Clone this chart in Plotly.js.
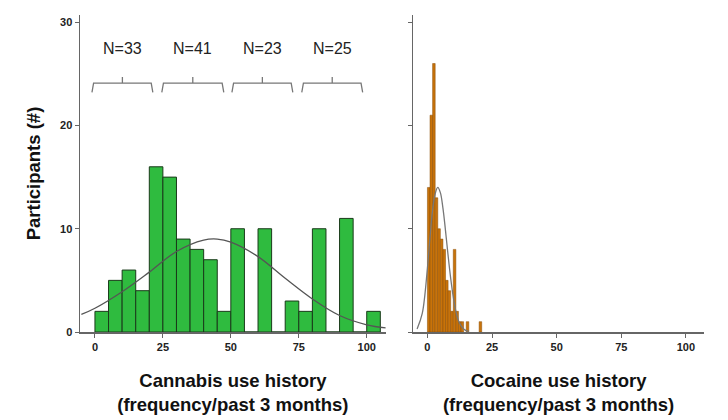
<!DOCTYPE html>
<html><head><meta charset="utf-8">
<script src="https://cdn.plot.ly/plotly-3.0.1.min.js"></script>
<style>body{margin:0}</style></head><body>
<div id="c" style="width:728px;height:420px"></div>
<script>
const canBins = [0,5,10,15,20,25,30,35,40,45,50,55,60,65,70,75,80,85,90,95,100];
const canCounts = [2,5,6,4,16,15,9,8,7,2,10,0,10,0,3,2,10,0,11,0,2];
const canCurveX = [-5,0,10,20,30,40,45,50,60,70,80,90,100,107];
const canCurveY = [1.7,2.3,3.9,5.8,7.8,8.9,9.0,8.7,7.3,5.2,3.2,1.6,0.7,0.4];
const cocBins = [0,1,2,3,4,5,6,7,8,9,10,11,12,13,15,20];
const cocCounts = [14,21,26,13,10,9,8,5,4,2,8,2,1,1,1,1];
const cocCurveX = [-4,-2,0,1,2,3,4,5,6,7,8,9,10,11,12,14,16];
const cocCurveY = [0.3,1.8,6.2,9.2,11.8,13.4,14,13.5,12,9.8,7.4,5.2,3.4,2,1.1,0.3,0.05];
const braces = [[-1.1,21.3,'N=33'],[24.6,47.4,'N=41'],[50.4,72.8,'N=23'],[76.1,98.5,'N=25']];
const yTicks = [0,10,20,30];

const traces = [
 {type:'bar',x:canBins.map(b=>b+2.5),y:canCounts,width:5,xaxis:'x',yaxis:'y',
  marker:{color:'#2fbb3f',line:{color:'#1a3a1a',width:1}}},
 {type:'scatter',mode:'lines',x:canCurveX,y:canCurveY,line:{color:'#555',width:1.3,shape:'spline'},xaxis:'x',yaxis:'y'},
 {type:'bar',x:cocBins.map(b=>b+0.5),y:cocCounts,width:1,xaxis:'x2',yaxis:'y2',
  marker:{color:'#c8730a',line:{color:'#8a4d05',width:0.5}}},
 {type:'scatter',mode:'lines',x:cocCurveX,y:cocCurveY,line:{color:'#777',width:1.3,shape:'spline'},xaxis:'x2',yaxis:'y2'}
];
const shapes=[], ann=[];
braces.forEach(([a,b,t])=>{
 const m=(a+b)/2;
 shapes.push({type:'path',xref:'x',yref:'y',path:`M${a},23.2 L${a+0.6},24.1 L${b-0.6},24.1 L${b},23.2 M${m},24.1 L${m},24.7`,line:{color:'#777',width:1.3}});
 ann.push({xref:'x',yref:'y',x:m,y:27.5,text:t,showarrow:false,font:{size:16,color:'#222',family:'Liberation Sans, Arial'}});
});
const ax = {showgrid:false,zeroline:false,showline:true,linecolor:'#666',linewidth:1.5,ticks:'outside',ticklen:4,tickcolor:'#666',
  tickfont:{size:11,color:'#222',family:'Liberation Sans, Arial',weight:'bold'},tickvals:[0,25,50,75,100],range:[-5.5,107],fixedrange:true};
const tfont={size:18.5,color:'#111',family:'Liberation Sans, Arial',weight:'bold'};
const layout={width:728,height:420,showlegend:false,bargap:0,plot_bgcolor:'#fff',paper_bgcolor:'#fff',
 margin:{l:80,r:24,t:15,b:88},
 xaxis:Object.assign({},ax,{domain:[0,0.49],anchor:'y',title:{text:'Cannabis use history<br>(frequency/past 3 months)',font:tfont,standoff:22}}),
 xaxis2:Object.assign({},ax,{domain:[0.534,1],anchor:'y2',title:{text:'Cocaine use history<br>(frequency/past 3 months)',font:tfont,standoff:22}}),
 yaxis:{range:[0,30.7],domain:[0,1],showgrid:false,zeroline:false,showline:true,linecolor:'#666',linewidth:1.5,ticks:'outside',ticklen:4,tickcolor:'#666',
  tickvals:yTicks,tickfont:{size:11,color:'#222',family:'Liberation Sans, Arial',weight:'bold'},
  title:{text:'Participants (#)',font:tfont,standoff:14}},
 yaxis2:{range:[0,30.7],anchor:'x2',showgrid:false,zeroline:false,showline:true,linecolor:'#666',linewidth:1.5,ticks:'outside',ticklen:4,tickcolor:'#666',
  tickvals:yTicks,showticklabels:false},
 shapes:shapes,annotations:ann};
Plotly.newPlot('c',traces,layout,{displayModeBar:false,staticPlot:true});
</script></body></html>
